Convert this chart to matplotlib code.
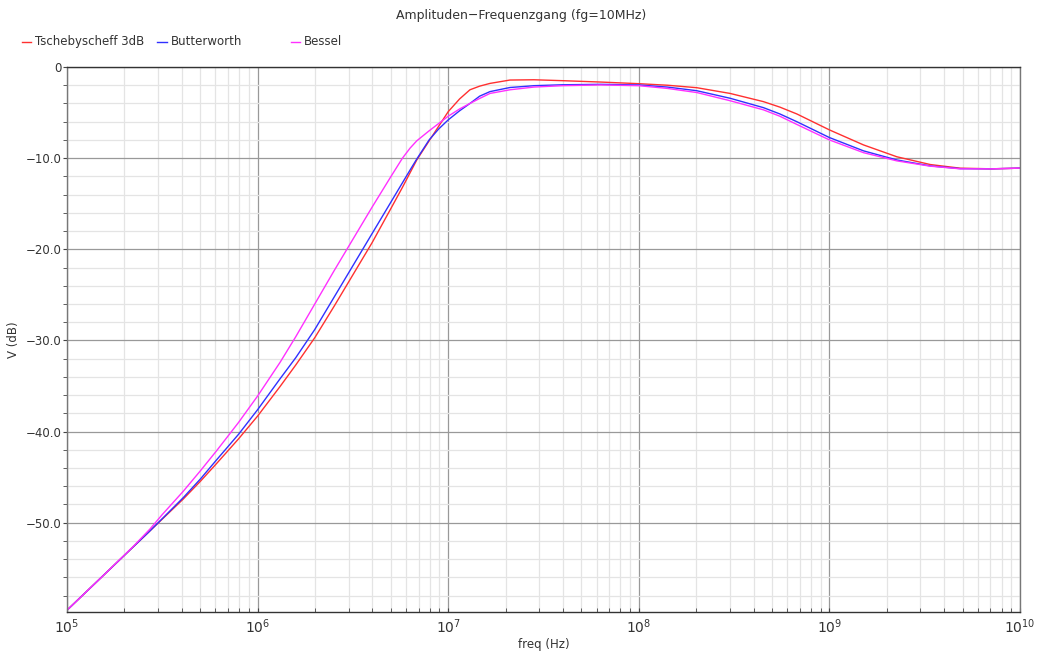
import numpy as np
import matplotlib
matplotlib.use("Agg")
import matplotlib.pyplot as plt
from matplotlib.ticker import MultipleLocator, FuncFormatter, LogLocator
from matplotlib.lines import Line2D

# --- data, x given as log10(freq) ---
log_freq = [5.0, 5.2, 5.35, 5.435, 5.5, 5.61, 5.7, 5.785, 5.9, 6.0, 6.118, 6.2, 6.3, 6.4, 6.5,
            6.6, 6.7, 6.76, 6.8, 6.835, 6.9, 6.95, 7.0, 7.06, 7.114, 7.165, 7.219, 7.324, 7.45,
            7.6, 7.8, 8.0, 8.15, 8.304, 8.479, 8.654, 8.74, 8.829, 9.0, 9.179, 9.354, 9.529,
            9.686, 9.85, 10.0]
tscheby = [-59.6, -55.6, -52.6, -50.9, -49.6, -47.4, -45.45, -43.5, -40.8, -38.3, -35.05, -32.7, -29.7, -26.3, -22.8,
           -19.3, -15.5, -13.2, -11.6, -10.2, -8.1, -6.5, -4.9, -3.5, -2.5, -2.1, -1.8, -1.43, -1.4,
           -1.5, -1.65, -1.83, -2.0, -2.27, -2.9, -3.8, -4.4, -5.15, -6.9, -8.55, -9.85, -10.7,
           -11.1, -11.17, -11.1]
butter = [-59.6, -55.6, -52.6, -50.9, -49.55, -47.25, -45.2, -43.1, -40.3, -37.6, -34.2, -31.9, -28.8, -25.3, -21.8,
          -18.3, -14.8, -12.7, -11.3, -10.1, -8.0, -6.8, -5.8, -4.8, -4.0, -3.2, -2.7, -2.25, -2.05,
          -1.95, -1.9, -1.97, -2.2, -2.6, -3.43, -4.46, -5.15, -6.0, -7.74, -9.2, -10.2, -10.85,
          -11.15, -11.17, -11.1]
bessel = [-59.6, -55.6, -52.55, -50.7, -49.1, -46.55, -44.3, -42.1, -39.0, -36.1, -32.4, -29.6, -26.0, -22.4, -18.9,
          -15.4, -12.0, -10.0, -8.9, -8.1, -7.0, -6.2, -5.4, -4.6, -4.0, -3.45, -2.9, -2.5, -2.2,
          -2.05, -1.97, -2.05, -2.35, -2.8, -3.7, -4.7, -5.4, -6.3, -8.0, -9.4, -10.3, -10.88,
          -11.17, -11.17, -11.1]
labels = ["Tschebyscheff 3dB", "Butterworth", "Bessel"]
colors = ["#ff3030", "#3030ff", "#ff30ff"]

freq = np.power(10.0, log_freq)

fig = plt.figure(figsize=(10.42, 6.55), dpi=100)
ax = fig.add_axes([0.0643, 0.0656, 0.9146, 0.8321])

for vals, lab, col in zip([tscheby, butter, bessel], labels, colors):
    ax.plot(freq, vals, color=col, lw=1.0, label=lab)

ax.set_xscale("log")
ax.set_xlim(1e5, 1e10)
ax.set_ylim(-59.8, 0)
ax.yaxis.set_major_locator(MultipleLocator(10))
ax.yaxis.set_minor_locator(MultipleLocator(2))
ax.yaxis.set_major_formatter(FuncFormatter(lambda v, p: "0" if abs(v) < 1e-9 else f"{v:.1f}".replace("-", "\u2212")))
ax.xaxis.set_major_locator(LogLocator(base=10, numticks=10))
ax.xaxis.set_minor_locator(LogLocator(base=10, subs=np.arange(2, 10), numticks=100))

ax.grid(which="major", color="#999999", lw=0.9)
ax.grid(which="minor", color="#e4e4e4", lw=0.9)
ax.set_axisbelow(True)
for s in ax.spines.values():
    s.set_color("#333333")
    s.set_linewidth(1.0)
ax.spines["left"].set_color("#777777")
ax.spines["right"].set_color("#777777")

ax.tick_params(axis="y", which="both", direction="out", labelsize=8.5, colors="#444444",
               labelcolor="#333333", length=3, pad=1)
ax.tick_params(axis="x", which="both", direction="in", labelsize=10, colors="#444444",
               labelcolor="#333333", length=3, pad=4)

ax.set_xlabel("freq (Hz)", fontsize=8.5, color="#333333", labelpad=1)
ax.set_ylabel("V (dB)", fontsize=8.5, color="#333333", labelpad=4)

fig.text(0.5, 0.977, "Amplituden\u2212Frequenzgang (fg=10MHz)", ha="center", va="center",
         fontsize=9, color="#333333")

# legend row at the top, laid out by hand like the reference
legend_x = [0.021, 0.151, 0.279]
for x0, lab, col in zip(legend_x, labels, colors):
    fig.add_artist(Line2D([x0, x0 + 0.009], [0.936, 0.936], color=col, lw=1.0,
                          transform=fig.transFigure))
    fig.text(x0 + 0.013, 0.936, lab, ha="left", va="center", fontsize=8.5, color="#333333")

fig.savefig("out.png", dpi=100)
